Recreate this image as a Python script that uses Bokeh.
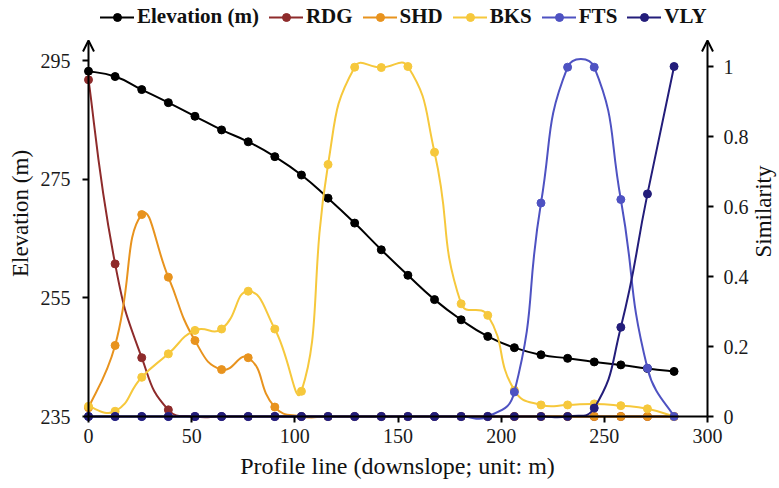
import math
import numpy as np
from bokeh.plotting import figure
from bokeh.models import (Range1d, LinearAxis, FixedTicker, CustomJSTickFormatter,
                          Legend, LegendItem, Arrow, OpenHead, Label)
from bokeh.embed import file_html
from bokeh.resources import INLINE

# ---------------- data ----------------
distance = [0, 12.9, 25.8, 38.7, 51.6, 64.5, 77.4, 90.3, 103.2, 116.1, 129.0, 141.9,
            154.8, 167.7, 180.6, 193.5, 206.4, 219.3, 232.2, 245.1, 258.0, 270.9, 283.8]
elevation = [293.2, 292.3, 290.1, 287.9, 285.6, 283.3, 281.3, 278.8, 275.7, 271.8, 267.6,
             263.1, 258.8, 254.7, 251.3, 248.5, 246.6, 245.4, 244.8, 244.2, 243.7, 243.1, 242.6]
rdg = [0.962, 0.436, 0.168, 0.019, 0, 0, 0, 0, 0, 0, 0, 0,
       0, 0, 0, 0, 0, 0, 0, 0, 0, 0, 0]
shd = [0.025, 0.203, 0.577, 0.398, 0.217, 0.134, 0.168, 0.027, 0, 0, 0, 0,
       0, 0, 0, 0, 0, 0, 0, 0, 0, 0, 0]
bks = [0.029, 0.015, 0.112, 0.179, 0.246, 0.250, 0.358, 0.250, 0.072, 0.720, 0.998, 0.997,
       1.000, 0.755, 0.322, 0.289, 0.075, 0.033, 0.033, 0.036, 0.031, 0.022, 0.0]
fts = [0, 0, 0, 0, 0, 0, 0, 0, 0, 0, 0, 0,
       0, 0, 0, 0, 0.070, 0.610, 0.998, 0.998, 0.620, 0.138, 0.0]
vly = [0, 0, 0, 0, 0, 0, 0, 0, 0, 0, 0, 0,
       0, 0, 0, 0, 0, 0, 0, 0.024, 0.255, 0.636, 1.000]

series_names = ["RDG", "SHD", "BKS", "FTS", "VLY"]
series_values = [rdg, shd, bks, fts, vly]
series_colors = ["#8E2B2B", "#E8931E", "#F6C83C", "#4E52C2", "#231D7A"]

x_ticks = [0, 50, 100, 150, 200, 250, 300]
elev_ticks = [235, 255, 275, 295]
sim_ticks = [0, 0.2, 0.4, 0.6, 0.8, 1.0]

x_title = "Profile line (downslope; unit: m)"
y_title = "Elevation (m)"
y2_title = "Similarity"

# ---------------- layout (frame = whole canvas, axes pinned inside) ----------------
W, H = 779, 488
AX_L, AX_R, AX_B = 88, 707, 416             # pixel positions of the three axes
PX_X = (AX_R - AX_L) / 300.0                # pixels per metre along the profile
PX_E, PX_S = 5.933, 350.0                   # pixels per metre / per similarity unit
ARROW_TOP = 40                              # arrow tips, px from the top

XMIN, XMAX = 0, 300
E_BASE, S_BASE = 235, 0
x_range = Range1d(XMIN - AX_L / PX_X, XMAX + (W - AX_R) / PX_X)
y_range = Range1d(E_BASE - (H - AX_B) / PX_E, E_BASE + AX_B / PX_E)
s_range = Range1d(S_BASE - (H - AX_B) / PX_S, S_BASE + AX_B / PX_S)
E_TIP = E_BASE + (AX_B - ARROW_TOP) / PX_E

FONT = "Liberation Serif"

p = figure(width=W, height=H, output_backend="svg", toolbar_location=None,
           x_range=x_range, y_range=y_range,
           min_border_left=0, min_border_right=0, min_border_top=0, min_border_bottom=0,
           x_axis_location=None, y_axis_location=None)
p.extra_y_ranges = {"sim": s_range}
p.outline_line_color = None
p.background_fill_color = "white"
p.border_fill_color = "white"


def style_axis(ax, standoff):
    ax.axis_line_color = "black"
    ax.axis_line_width = 2
    ax.major_tick_line_color = "black"
    ax.major_tick_line_width = 2
    ax.major_tick_out = 6
    ax.major_tick_in = 0
    ax.minor_tick_line_color = None
    ax.major_label_text_font = FONT
    ax.major_label_text_font_size = "20px"
    ax.major_label_text_color = "#1a1a1a"
    ax.major_label_standoff = standoff


xax = LinearAxis(fixed_location=E_BASE, ticker=FixedTicker(ticks=x_ticks), bounds=(XMIN, XMAX))
style_axis(xax, 6)
p.add_layout(xax, "below")

lax = LinearAxis(fixed_location=XMIN, ticker=FixedTicker(ticks=elev_ticks))
style_axis(lax, 12)
lax.axis_line_color = None                 # drawn by the arrow below
p.add_layout(lax, "left")

rax = LinearAxis(fixed_location=XMAX, y_range_name="sim", ticker=FixedTicker(ticks=sim_ticks))
style_axis(rax, 10)
rax.axis_line_color = None                 # drawn by the arrow below
rax.formatter = CustomJSTickFormatter(code="return String(Math.round(tick*10)/10);")
p.add_layout(rax, "right")

p.grid.visible = False


def title_label(text, x, y_top, angle, size):
    return Label(x=x, y=H - y_top, x_units="screen", y_units="screen", text=text,
                 angle=angle, text_align="center", text_baseline="middle",
                 text_font=FONT, text_font_size=size, text_color="#111111")


p.add_layout(title_label(x_title, 397, 465, 0, "24px"))
p.add_layout(title_label(y_title, 20, 213, math.pi / 2, "23px"))
p.add_layout(title_label(y2_title, 763, 211, math.pi / 2, "23px"))


# smooth (Excel-like) curve through the points, drawn with Bokeh's bezier glyph
def bezier_controls(xs, ys, sx, sy, tension=0.5):
    X = np.asarray(xs, float) * sx
    Y = np.asarray(ys, float) * sy
    Xp = np.r_[X[0], X[:-1]]; Yp = np.r_[Y[0], Y[:-1]]
    Xn = np.r_[X[1:], X[-1]]; Yn = np.r_[Y[1:], Y[-1]]
    Tx, Ty = Xn - Xp, Yn - Yp
    din = np.hypot(X - Xp, Y - Yp)
    dout = np.hypot(Xn - X, Yn - Y)
    din[0] = dout[0]
    dout[-1] = din[-1]
    tot = din + dout
    tot[tot == 0] = 1.0
    ox = X + Tx * tension * dout / tot; oy = Y + Ty * tension * dout / tot
    ix = X - Tx * tension * din / tot; iy = Y - Ty * tension * din / tot
    return dict(x0=X[:-1] / sx, y0=Y[:-1] / sy, x1=X[1:] / sx, y1=Y[1:] / sy,
                cx0=ox[:-1] / sx, cy0=oy[:-1] / sy, cx1=ix[1:] / sx, cy1=iy[1:] / sy)


items = []

# axis arrows (they also draw the two vertical axis lines)
for xa in (XMIN, XMAX):
    p.add_layout(Arrow(end=OpenHead(size=11, line_width=2, line_color="black"),
                       x_start=xa, y_start=E_BASE, x_end=xa, y_end=E_TIP,
                       line_width=2, line_color="black"))

seg = bezier_controls(distance, elevation, PX_X, PX_E)
r1 = p.bezier(line_color="black", line_width=2, line_cap="round", **seg)
r2 = p.scatter(distance, elevation, size=8, marker="circle", fill_color="black", line_color="black")
items.append(LegendItem(label="Elevation (m)", renderers=[r1, r2]))

for name, vals, col in zip(series_names, series_values, series_colors):
    seg = bezier_controls(distance, vals, PX_X, PX_S)
    b = p.bezier(line_color=col, line_width=2, line_cap="round", y_range_name="sim", **seg)
    s = p.scatter(distance, vals, size=8, marker="circle", fill_color=col, line_color=col,
                  y_range_name="sim")
    items.append(LegendItem(label=name, renderers=[b, s]))

legend = Legend(items=items, orientation="horizontal", location=(100, H - 29),
                label_text_font=FONT, label_text_font_size="21px", label_text_font_style="bold",
                label_text_color="#111111",
                glyph_width=34, glyph_height=20, label_standoff=3, spacing=10,
                padding=2, margin=0, border_line_color=None, background_fill_alpha=0)
p.add_layout(legend, "center")

open("out.html", "w").write(file_html(p, INLINE))
